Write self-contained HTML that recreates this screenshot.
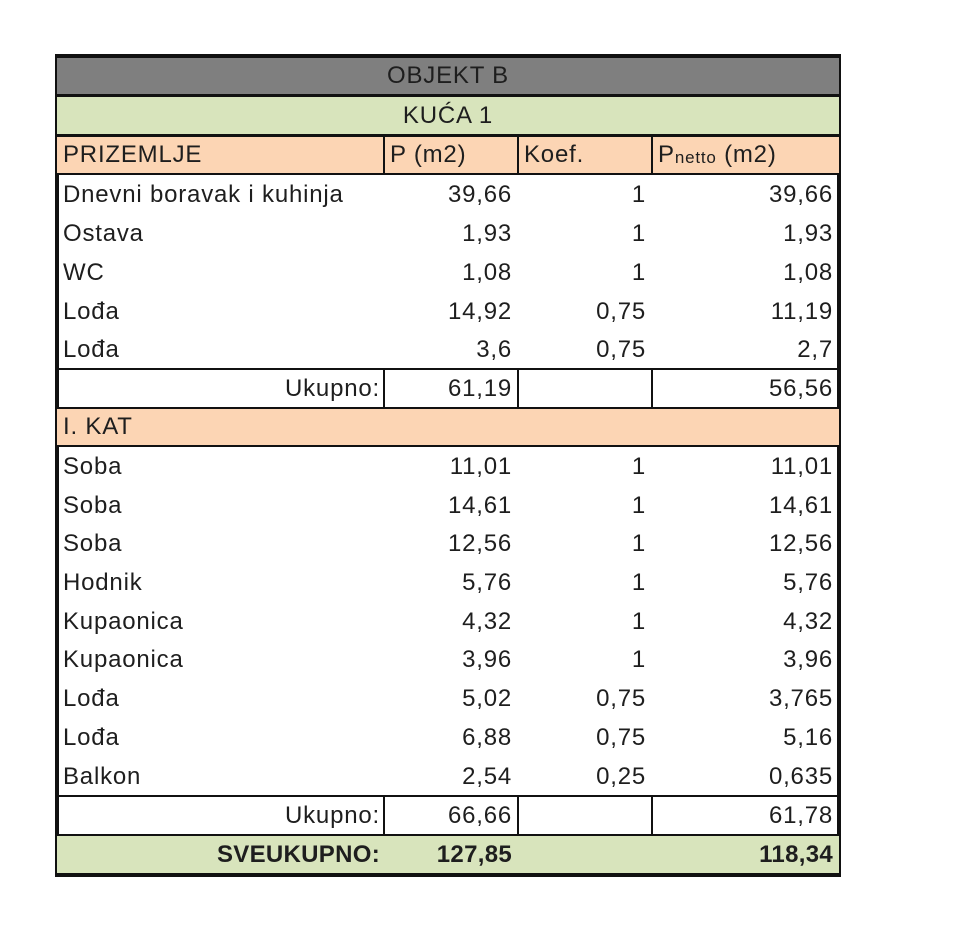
<!DOCTYPE html>
<html><head><meta charset="utf-8"><style>
body{margin:0;width:960px;height:925px;background:#fff;position:relative;font-family:"Liberation Sans",sans-serif;color:#1e1e1e;overflow:hidden}
.r{position:absolute;left:57px;width:782px;font-size:24px;letter-spacing:0.8px}
.c{position:absolute;top:0;height:100%;display:flex;align-items:center;white-space:nowrap}
.a{left:6px}
.b{right:327px}
.k{right:193px}
.n{right:6px}
.u{right:459px}
.hl{position:absolute;left:57px;width:782px;height:3px;background:#111}
.vl{position:absolute;width:2px;background:#111}
</style></head><body>
<div style="position:absolute;left:55px;top:54px;width:786px;height:823px;box-sizing:border-box;border:4px solid #111"></div>

<div class="r" style="top:58px;height:36px;background:#7f7f7f"><div class="c" style="left:0;right:0;justify-content:center">OBJEKT B</div></div>
<div class="hl" style="top:94px"></div>
<div class="r" style="top:97px;height:37px;background:#d8e4bc"><div class="c" style="left:0;right:0;justify-content:center">KUĆA 1</div></div>
<div class="hl" style="top:134px"></div>
<div class="r" style="top:137px;height:36px;background:#fcd5b4">
<div class="c a">PRIZEMLJE</div>
<div class="c" style="left:333px">P (m2)</div>
<div class="c" style="left:467px">Koef.</div>
<div class="c" style="left:601px">P<span style="font-size:17px;margin-top:6px">netto</span>&nbsp;(m2)</div>
</div>
<div class="vl" style="left:383px;top:137px;height:36px"></div>
<div class="vl" style="left:517px;top:137px;height:36px"></div>
<div class="vl" style="left:651px;top:137px;height:36px"></div>
<div class="hl" style="top:173px;height:2px"></div>

<div class="r" style="top:175px;height:39px"><div class="c a">Dnevni boravak i kuhinja</div><div class="c b">39,66</div><div class="c k">1</div><div class="c n">39,66</div></div>
<div class="r" style="top:214px;height:39px"><div class="c a">Ostava</div><div class="c b">1,93</div><div class="c k">1</div><div class="c n">1,93</div></div>
<div class="r" style="top:253px;height:39px"><div class="c a">WC</div><div class="c b">1,08</div><div class="c k">1</div><div class="c n">1,08</div></div>
<div class="r" style="top:292px;height:39px"><div class="c a">Lođa</div><div class="c b">14,92</div><div class="c k">0,75</div><div class="c n">11,19</div></div>
<div class="r" style="top:331px;height:38px"><div class="c a">Lođa</div><div class="c b">3,6</div><div class="c k">0,75</div><div class="c n">2,7</div></div>
<div class="hl" style="top:368px;height:2px"></div>
<div class="r" style="top:370px;height:38px"><div class="c u">Ukupno:</div><div class="c b">61,19</div><div class="c n">56,56</div></div>
<div class="vl" style="left:383px;top:370px;height:38px"></div>
<div class="vl" style="left:517px;top:370px;height:38px"></div>
<div class="vl" style="left:651px;top:370px;height:38px"></div>
<div class="hl" style="top:407px;height:2px"></div>
<div class="r" style="top:409px;height:36px;background:#fcd5b4"><div class="c a">I. KAT</div></div>
<div class="hl" style="top:445px;height:2px"></div>

<div class="r" style="top:447px;height:39px"><div class="c a">Soba</div><div class="c b">11,01</div><div class="c k">1</div><div class="c n">11,01</div></div>
<div class="r" style="top:486px;height:39px"><div class="c a">Soba</div><div class="c b">14,61</div><div class="c k">1</div><div class="c n">14,61</div></div>
<div class="r" style="top:525px;height:38px"><div class="c a">Soba</div><div class="c b">12,56</div><div class="c k">1</div><div class="c n">12,56</div></div>
<div class="r" style="top:563px;height:39px"><div class="c a">Hodnik</div><div class="c b">5,76</div><div class="c k">1</div><div class="c n">5,76</div></div>
<div class="r" style="top:602px;height:39px"><div class="c a">Kupaonica</div><div class="c b">4,32</div><div class="c k">1</div><div class="c n">4,32</div></div>
<div class="r" style="top:641px;height:38px"><div class="c a">Kupaonica</div><div class="c b">3,96</div><div class="c k">1</div><div class="c n">3,96</div></div>
<div class="r" style="top:679px;height:39px"><div class="c a">Lođa</div><div class="c b">5,02</div><div class="c k">0,75</div><div class="c n">3,765</div></div>
<div class="r" style="top:718px;height:39px"><div class="c a">Lođa</div><div class="c b">6,88</div><div class="c k">0,75</div><div class="c n">5,16</div></div>
<div class="r" style="top:757px;height:39px"><div class="c a">Balkon</div><div class="c b">2,54</div><div class="c k">0,25</div><div class="c n">0,635</div></div>
<div class="hl" style="top:795px;height:2px"></div>
<div class="r" style="top:797px;height:37px"><div class="c u">Ukupno:</div><div class="c b">66,66</div><div class="c n">61,78</div></div>
<div class="vl" style="left:383px;top:797px;height:37px"></div>
<div class="vl" style="left:517px;top:797px;height:37px"></div>
<div class="vl" style="left:651px;top:797px;height:37px"></div>
<div class="hl" style="top:834px;height:2px"></div>
<div class="r" style="top:836px;height:37px;background:#d8e4bc;font-weight:bold;letter-spacing:0.3px"><div class="c u">SVEUKUPNO:</div><div class="c b">127,85</div><div class="c n">118,34</div></div>
</body></html>
